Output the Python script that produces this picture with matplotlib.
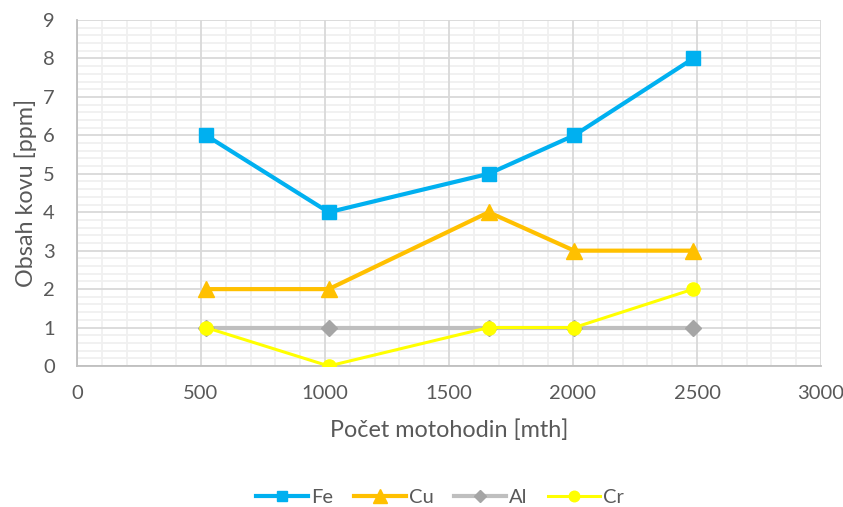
import matplotlib
matplotlib.use("Agg")
import matplotlib.pyplot as plt
from matplotlib.ticker import FixedLocator

plt.rcParams['font.family'] = ['Lato', 'DejaVu Sans']

hours = [520, 1015, 1660, 2005, 2485]
fe = [6, 4, 5, 6, 8]
cu = [2, 2, 4, 3, 3]
al = [1, 1, 1, 1, 1]
cr = [1, 0, 1, 1, 2]

x_major = list(range(0, 3001, 500))
x_minor = [v for v in range(0, 3001, 100) if v % 500]
y_major = list(range(0, 10))
y_minor = [i / 5 for i in range(0, 46) if i % 5]

fig = plt.figure(figsize=(8.43, 5.07), dpi=100)
ax = fig.add_axes([77/843, 1-366/507, (821-77)/843, (366-20)/507])

ax.set_xlim(0, 3000)
ax.set_ylim(0, 9)

# grid: minor lines first, major lines on top of them
ax.vlines(x_minor, 0, 9, color='#F0F0F0', lw=1.3, zorder=0.1)
ax.hlines(y_minor, 0, 3000, color='#F0F0F0', lw=1.3, zorder=0.1)
ax.vlines(x_major, 0, 9, color='#D9D9D9', lw=1.3, zorder=0.2)
ax.hlines(y_major, 0, 3000, color='#D9D9D9', lw=1.3, zorder=0.2)

ax.plot(hours, fe, color='#00B0F0', lw=3.0, marker='s', ms=9.5, label='Fe', zorder=5)
ax.plot(hours, cu, color='#FFC000', lw=3.0, marker='^', ms=12, label='Cu', zorder=4)
ax.plot(hours, al, color='#BFBFBF', lw=3.0, marker='D', ms=8, mfc='#A5A5A5', mec='#A5A5A5', label='Al', zorder=3)
ax.plot(hours, cr, color='#FFFF00', lw=2.2, marker='o', ms=9.5, label='Cr', zorder=4)

ax.xaxis.set_major_locator(FixedLocator(x_major))
ax.yaxis.set_major_locator(FixedLocator(y_major))
for s in ['top', 'right']:
    ax.spines[s].set_visible(False)
for s in ['left', 'bottom']:
    ax.spines[s].set_color('#BFBFBF')
    ax.spines[s].set_linewidth(1.3)
    ax.spines[s].set_zorder(0.3)
ax.tick_params(which='both', length=0, labelsize=14.5, colors='#595959')
ax.tick_params(axis='x', pad=14)
ax.tick_params(axis='y', pad=16)

ax.set_xlabel('Počet motohodin [mth]', fontsize=16.8, color='#595959', labelpad=12)
ax.set_ylabel('Obsah kovu [ppm]', fontsize=16.8, color='#595959', labelpad=4)

leg = fig.legend(loc='center', bbox_to_anchor=(0.522, 1-497/507), ncol=4, frameon=False,
                 fontsize=14.5, handlelength=2.6, columnspacing=1.0, handletextpad=0.15,
                 labelcolor='#595959')
for h in leg.legend_handles:
    h.set_markersize(h.get_markersize() * 0.8)

fig.savefig('out.png', dpi=100)
